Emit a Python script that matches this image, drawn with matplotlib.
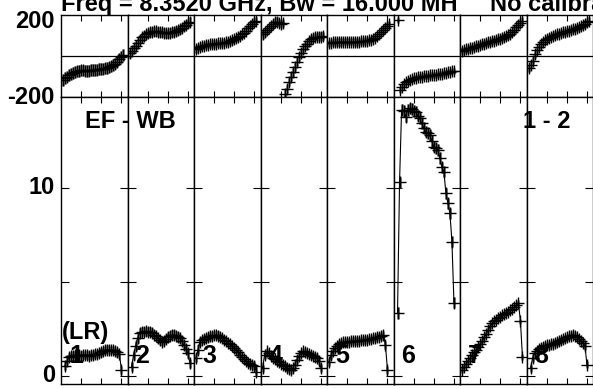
import numpy as np
import matplotlib.pyplot as plt

plt.rcParams['font.family'] = ['Liberation Sans', 'DejaVu Sans']

nan = np.nan
# channels per baseline panel
chan = np.arange(1, 32)
panel_num = ['1', '2', '3', '4', '5', '6', '7', '8']

# phase (deg) per panel
ph1 = [-117,-108,-100,-93,-87,-82,-78,-75,-72,-70,-70,-71,-72,-71,-69,-68,-68,-66,-64,-63,-61,-60,-58,-55,-50,-45,-37,-27,-15,-5,5]
ph2 = [13,25,38,50,65,80,92,100,107,112,115,118,120,120,119,117,115,113,112,112,113,115,118,122,126,130,137,145,153,160,166]
ph3 = [35,40,44,48,51,54,56,57,58,59,60,61,62,63,65,67,70,73,77,81,86,91,97,105,114,124,135,147,158,166,172]
ph4 = [105,115,125,135,145,155,165,168,160,158,162,-185,-160,-125,-100,-80,-55,-30,-5,15,32,48,60,72,82,88,92,94,95,95,96]
ph5 = [62,65,67,68,68,69,69,70,70,70,70,70,70,69,69,70,71,72,73,75,77,80,84,89,96,105,115,127,138,148,155]
ph6 = [nan,176,-166,-150,-138,-128,-122,-117,-112,-109,-106,-104,-102,-100,-99,-98,-96,-95,-94,-92,-91,-90,-88,-86,-85,-83,-80,-78,-75,-72,nan]
ph7 = [25,28,32,35,38,41,44,47,50,53,57,60,63,66,69,72,75,78,81,85,88,92,96,101,107,115,126,140,152,162,170]
ph8 = [-60,-42,-22,8,28,45,58,68,76,83,89,94,98,102,105,109,112,115,118,121,124,127,130,133,136,140,145,150,157,165,172]

# amplitude per panel
am1 = [nan,0.55,0.8,1.0,1.05,1.08,1.1,1.12,1.1,1.08,1.1,1.12,1.1,1.08,1.1,1.12,1.15,1.18,1.2,1.25,1.32,1.37,1.4,1.38,1.38,1.37,1.33,1.25,1.15,0.32,nan]
am2 = [nan,0.5,1.1,1.6,2.0,2.3,2.35,2.36,2.37,2.36,2.36,2.3,2.2,2.1,2.0,1.9,1.82,1.88,1.98,2.08,2.15,2.18,2.18,2.15,2.08,2.0,1.85,1.62,1.45,1.2,0.67]
am3 = [0.94,1.4,1.83,1.92,1.97,2.0,2.05,2.1,2.13,2.16,2.18,2.15,2.08,2.0,1.92,1.85,1.77,1.68,1.6,1.5,1.38,1.25,1.12,1.0,0.88,0.78,0.7,0.65,0.6,0.55,0.23]
am4 = [0.4,1.1,1.3,1.2,1.05,0.95,0.88,0.8,0.72,0.65,0.6,0.52,0.42,0.35,0.32,0.4,0.6,0.85,1.05,1.2,1.3,1.28,1.2,1.14,1.1,1.05,1.0,0.94,0.8,0.41,nan]
am5 = [0.75,1.1,1.3,1.47,1.6,1.7,1.75,1.78,1.8,1.82,1.83,1.84,1.85,1.86,1.87,1.88,1.89,1.9,1.91,1.93,1.95,1.97,2.0,2.03,2.06,2.09,2.13,2.18,1.65,0.32,nan]
am6 = [nan,3.35,10.3,14.15,14.1,13.8,14.15,14.24,14.2,14.1,14.05,13.85,13.7,13.45,13.2,13.0,12.9,12.82,12.5,12.2,12.1,12.02,11.6,11.1,10.87,9.72,9.19,8.65,7.15,3.9,nan]
am7 = [0.3,0.5,0.65,0.8,0.95,1.1,1.25,1.4,1.55,1.7,1.85,2.05,2.25,2.45,2.65,2.8,2.9,3.0,3.08,3.15,3.22,3.28,3.35,3.42,3.5,3.58,3.65,3.75,3.9,2.9,1.0]
am8 = [nan,0.4,0.95,1.2,1.35,1.45,1.5,1.55,1.6,1.62,1.65,1.68,1.72,1.76,1.8,1.85,1.9,1.95,2.0,2.05,2.1,2.15,2.2,2.15,2.05,1.95,1.85,1.75,1.6,0.6,nan]

# error bar half-sizes per panel
ph_err = [28, 22, 18, 20, 18, 15, 18, 18]
am_err = [0.22, 0.25, 0.22, 0.2, 0.2, 0.3, 0.15, 0.2]

phases = [ph1, ph2, ph3, ph4, ph5, ph6, ph7, ph8]
amps = [am1, am2, am3, am4, am5, am6, am7, am8]

W, H = 593, 389
fig = plt.figure(figsize=(W/100, H/100), dpi=100)

def fx(x): return x / W
def fy(y): return 1 - y / H

left = 61
pw = 66.5
bold = dict(fontweight='bold', color='k')

for i in range(8):
  x0 = fx(left + i*pw)
  # phase panel ------------------------------------------------
  axp = fig.add_axes([x0, fy(97), fx(pw), (97-15)/H])
  p = np.array(phases[i], dtype=float)
  axp.errorbar(chan, p, yerr=ph_err[i], fmt='none', ecolor='0.5', elinewidth=2.0)
  axp.plot(chan, p, '+', color='k', ms=8, mew=1.0)
  axp.axhline(0, color='k', lw=0.9)
  axp.set_xlim(0, 33)
  axp.set_ylim(-200, 200)
  axp.set_xticks([10, 20, 30])
  axp.set_yticks([])
  axp.tick_params(axis='x', direction='in', top=True, bottom=True, length=4,
                  labelbottom=False, width=0.8)
  # amplitude panel --------------------------------------------
  axa = fig.add_axes([x0, fy(384), fx(pw), (384-97)/H])
  a = np.array(amps[i], dtype=float)
  axa.errorbar(chan, a, yerr=am_err[i], fmt='none', ecolor='0.5', elinewidth=2.0)
  axa.plot(chan, a, '-', color='k', lw=0.8)
  axa.plot(chan, a, '+', color='k', ms=8, mew=1.0)
  axa.set_xlim(0, 33)
  axa.set_ylim(-0.43, 14.84)
  axa.set_xticks([10, 20, 30])
  axa.set_yticks([0, 5, 10])
  axa.tick_params(axis='x', direction='in', top=True, bottom=True, length=4,
                  labelbottom=False, width=0.8)
  axa.tick_params(axis='y', direction='in', left=True, right=True, length=6,
                  labelleft=False, width=0.8)
  for ax in (axp, axa):
    for s in ax.spines.values():
      s.set_linewidth(1.0)
  fig.text(fx(left + i*pw + 8), fy(356), panel_num[i], ha='left', va='center',
           fontsize=18, **bold)

# labels ---------------------------------------------------------
fig.text(fx(55), fy(21), '200', ha='right', va='center', fontsize=17, **bold)
fig.text(fx(55), fy(97), '-200', ha='right', va='center', fontsize=17, **bold)
fig.text(fx(55), fy(188), '10', ha='right', va='center', fontsize=17, **bold)
fig.text(fx(55), fy(376), '0', ha='right', va='center', fontsize=17, **bold)
fig.text(fx(85), fy(122), 'EF - WB', ha='left', va='center', fontsize=17, **bold)
fig.text(fx(523), fy(122), '1 - 2', ha='left', va='center', fontsize=17, **bold)
fig.text(fx(62), fy(333), '(LR)', ha='left', va='center', fontsize=17, **bold)
fig.text(fx(61), fy(11), 'Freq = 8.3520 GHz, Bw = 16.000 MH', ha='left',
         va='baseline', fontsize=17, **bold)
fig.text(fx(490), fy(11), 'No calibration applied', ha='left',
         va='baseline', fontsize=17, **bold)

plt.savefig('out.png', dpi=100)
